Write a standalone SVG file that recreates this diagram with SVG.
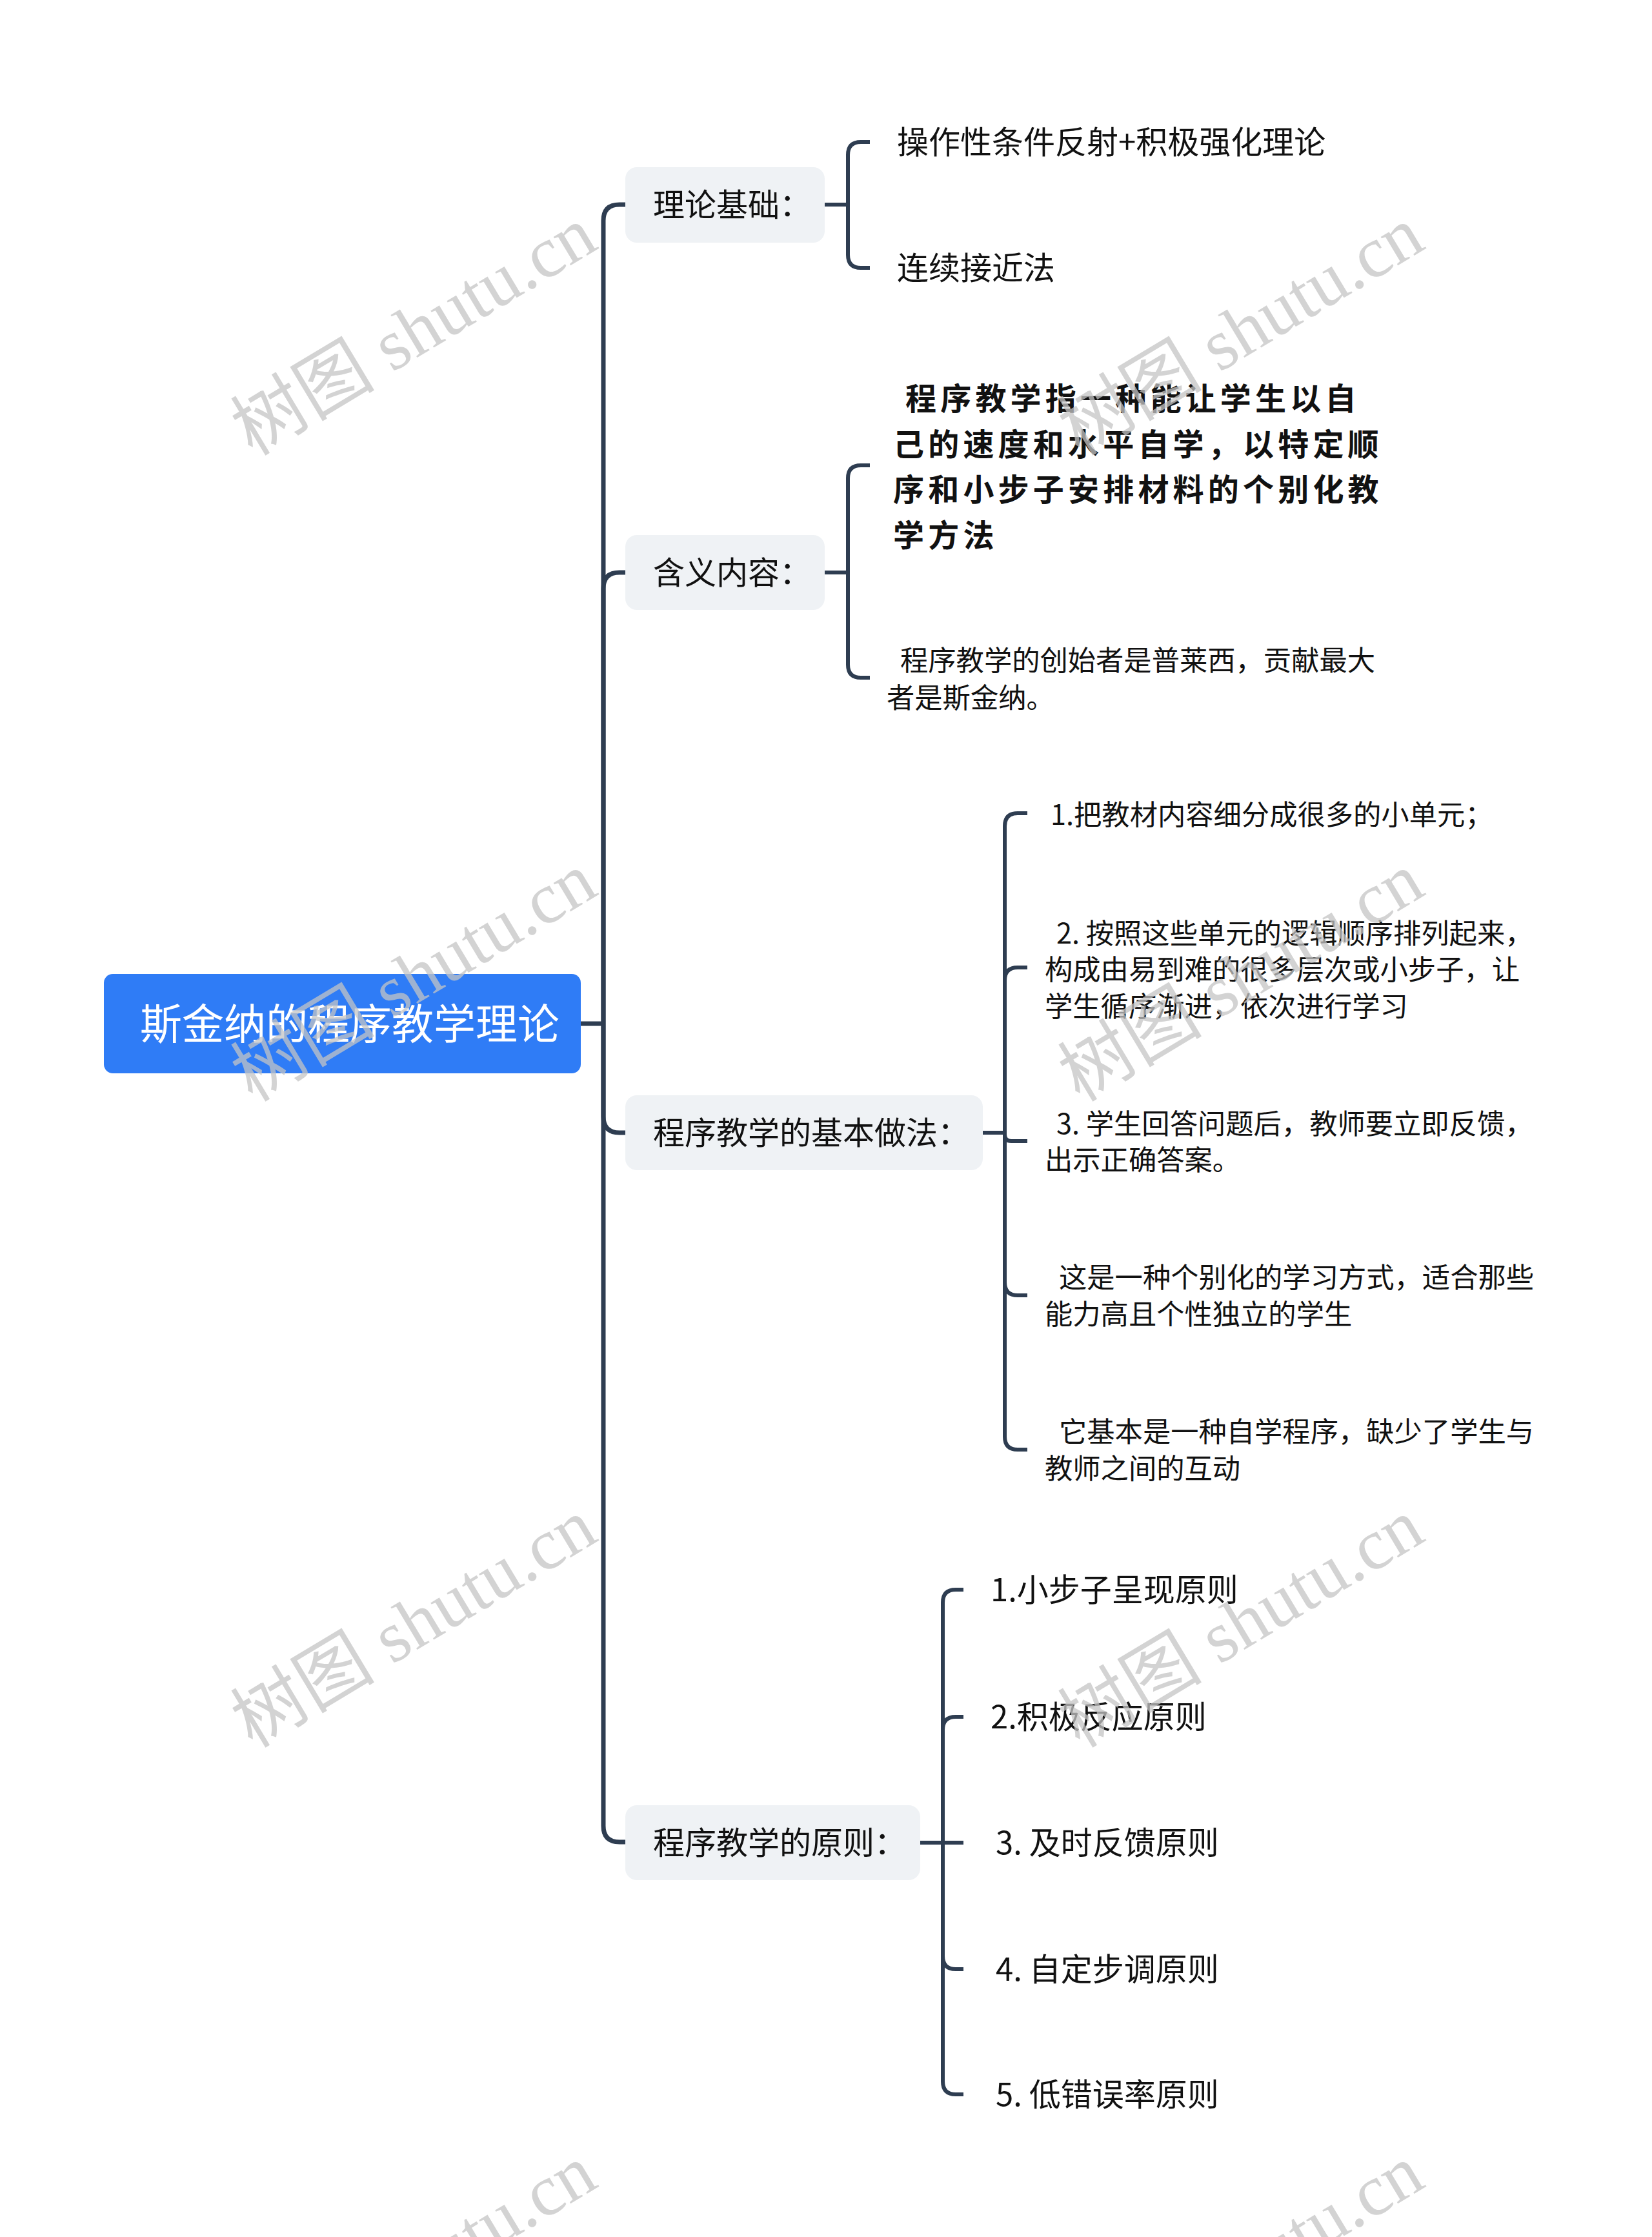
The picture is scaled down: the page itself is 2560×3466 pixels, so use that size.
<svg xmlns="http://www.w3.org/2000/svg" width="2560" height="3466" viewBox="0 0 2560 3466">
<style>
.bg{fill:#ffffff}
.root{fill:#2f7cf6}
.l1{fill:#eff2f5}
.t{font-family:"Noto Sans CJK SC","Noto Sans",sans-serif;fill:#111111}
.rt{font-family:"Noto Sans CJK SC","Noto Sans",sans-serif;fill:#ffffff;font-size:65px}
.f48{font-size:49px}
.f43{font-size:43.3px}
.kai{font-size:48px;font-weight:700;letter-spacing:6.2px}
.main{fill:none;stroke:#2e3d51;stroke-width:7;stroke-linecap:butt;stroke-linejoin:round}
.sub{fill:none;stroke:#2e3d51;stroke-width:6;stroke-linecap:butt;stroke-linejoin:round}
.wm{font-family:"Liberation Serif","Noto Sans CJK SC",serif;font-size:112px;fill:#c4c4c4;fill-opacity:0.75}
</style>
<rect class="bg" x="0" y="0" width="2560" height="3466"/>

<g id="connectors">
  <path class="main" d="M900 1586 H935"/>
  <path class="main" d="M935 1586 V342 Q935 317 960 317 H970"/>
  <path class="main" d="M935 1586 V912 Q935 887 960 887 H970"/>
  <path class="main" d="M935 1586 V1730 Q935 1755 960 1755 H970"/>
  <path class="main" d="M935 1586 V2829 Q935 2854 960 2854 H970"/>

  <path class="sub" d="M1278 317 H1314"/>
  <path class="sub" d="M1314 317 V240 Q1314 220 1334 220 H1348"/>
  <path class="sub" d="M1314 317 V395 Q1314 415 1334 415 H1348"/>

  <path class="sub" d="M1278 887 H1314"/>
  <path class="sub" d="M1314 887 V741 Q1314 721 1334 721 H1348"/>
  <path class="sub" d="M1314 887 V1030 Q1314 1050 1334 1050 H1348"/>

  <path class="sub" d="M1523 1755 H1557"/>
  <path class="sub" d="M1557 1755 V1280 Q1557 1260 1577 1260 H1592"/>
  <path class="sub" d="M1557 1755 V1519 Q1557 1499 1577 1499 H1592"/>
  <path class="sub" d="M1557 1755 V1758 Q1557 1768 1567 1768 H1592"/>
  <path class="sub" d="M1557 1755 V1987 Q1557 2007 1577 2007 H1592"/>
  <path class="sub" d="M1557 1755 V2226 Q1557 2246 1577 2246 H1592"/>

  <path class="sub" d="M1426 2855 H1493"/>
  <path class="sub" d="M1461 2855 V2483 Q1461 2463 1481 2463 H1493"/>
  <path class="sub" d="M1461 2855 V2680 Q1461 2660 1481 2660 H1493"/>
  <path class="sub" d="M1461 2855 V3031 Q1461 3051 1481 3051 H1493"/>
  <path class="sub" d="M1461 2855 V3225 Q1461 3245 1481 3245 H1493"/>
</g>

<g id="root">
  <rect class="root" x="161" y="1509" width="739" height="154" rx="14"/>
  <text class="rt" x="542" y="1610" text-anchor="middle">斯金纳的程序教学理论</text>
</g>

<g id="n-lilun">
  <rect class="l1" x="969" y="259" width="309" height="117" rx="18"/>
  <text class="t f48" x="1012" y="335">理论基础：</text>
</g>
<g id="n-lilun-1"><text class="t f48" x="1390" y="238">操作性条件反射+积极强化理论</text></g>
<g id="n-lilun-2"><text class="t f48" x="1390" y="433">连续接近法</text></g>

<g id="n-hanyi">
  <rect class="l1" x="969" y="829" width="309" height="116" rx="18"/>
  <text class="t f48" x="1012" y="905">含义内容：</text>
</g>
<g id="n-hanyi-1">
  <text class="t kai" x="1403" y="635">程序教学指一种能让学生以自</text>
  <text class="t kai" x="1384" y="706">己的速度和水平自学，以特定顺</text>
  <text class="t kai" x="1384" y="776">序和小步子安排材料的个别化教</text>
  <text class="t kai" x="1384" y="847">学方法</text>
</g>
<g id="n-hanyi-2">
  <text class="t f43" x="1395" y="1039">程序教学的创始者是普莱西，贡献最大</text>
  <text class="t f43" x="1374" y="1097">者是斯金纳。</text>
</g>

<g id="n-zuofa">
  <rect class="l1" x="969" y="1697" width="554" height="116" rx="18"/>
  <text class="t f48" x="1012" y="1773">程序教学的基本做法：</text>
</g>
<g id="n-zuofa-1"><text class="t f43" x="1628" y="1278">1.把教材内容细分成很多的小单元；</text></g>
<g id="n-zuofa-2">
  <text class="t f43" x="1637" y="1462">2. 按照这些单元的逻辑顺序排列起来，</text>
  <text class="t f43" x="1619" y="1518">构成由易到难的很多层次或小步子，让</text>
  <text class="t f43" x="1619" y="1575">学生循序渐进，依次进行学习</text>
</g>
<g id="n-zuofa-3">
  <text class="t f43" x="1637" y="1757">3. 学生回答问题后，教师要立即反馈，</text>
  <text class="t f43" x="1619" y="1813">出示正确答案。</text>
</g>
<g id="n-zuofa-4">
  <text class="t f43" x="1641" y="1995">这是一种个别化的学习方式，适合那些</text>
  <text class="t f43" x="1619" y="2052">能力高且个性独立的学生</text>
</g>
<g id="n-zuofa-5">
  <text class="t f43" x="1641" y="2234">它基本是一种自学程序，缺少了学生与</text>
  <text class="t f43" x="1619" y="2291">教师之间的互动</text>
</g>

<g id="n-yuanze">
  <rect class="l1" x="969" y="2797" width="457" height="116" rx="18"/>
  <text class="t f48" x="1012" y="2873">程序教学的原则：</text>
</g>
<g id="n-yuanze-1"><text class="t f48" x="1535" y="2481">1.小步子呈现原则</text></g>
<g id="n-yuanze-2"><text class="t f48" x="1535" y="2678">2.积极反应原则</text></g>
<g id="n-yuanze-3"><text class="t f48" x="1543" y="2873">3. 及时反馈原则</text></g>
<g id="n-yuanze-4"><text class="t f48" x="1543" y="3069">4. 自定步调原则</text></g>
<g id="n-yuanze-5"><text class="t f48" x="1543" y="3263">5. 低错误率原则</text></g>

<g id="watermarks">
  <text class="wm" x="641" y="513" text-anchor="middle" dominant-baseline="central" transform="rotate(-31 641 513)">树图 shutu.cn</text>
  <text class="wm" x="1923" y="513" text-anchor="middle" dominant-baseline="central" transform="rotate(-31 1923 513)">树图 shutu.cn</text>
  <text class="wm" x="641" y="1514" text-anchor="middle" dominant-baseline="central" transform="rotate(-31 641 1514)">树图 shutu.cn</text>
  <text class="wm" x="1923" y="1514" text-anchor="middle" dominant-baseline="central" transform="rotate(-31 1923 1514)">树图 shutu.cn</text>
  <text class="wm" x="641" y="2515" text-anchor="middle" dominant-baseline="central" transform="rotate(-31 641 2515)">树图 shutu.cn</text>
  <text class="wm" x="1923" y="2515" text-anchor="middle" dominant-baseline="central" transform="rotate(-31 1923 2515)">树图 shutu.cn</text>
  <text class="wm" x="641" y="3516" text-anchor="middle" dominant-baseline="central" transform="rotate(-31 641 3516)">树图 shutu.cn</text>
  <text class="wm" x="1923" y="3516" text-anchor="middle" dominant-baseline="central" transform="rotate(-31 1923 3516)">树图 shutu.cn</text>
</g>
</svg>
